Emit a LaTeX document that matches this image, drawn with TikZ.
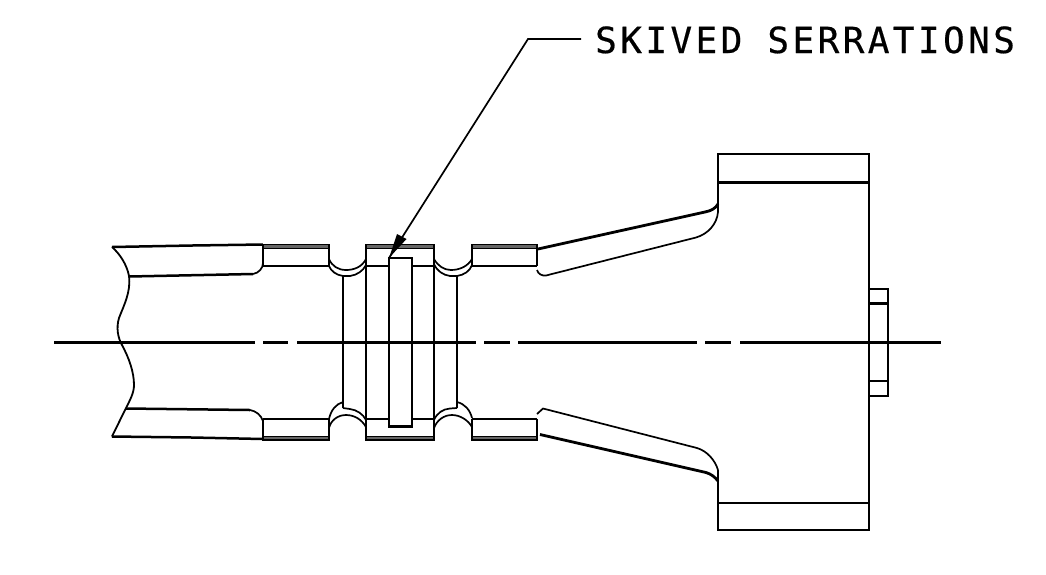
\documentclass[tikz,border=0pt]{standalone}
\usepackage{fontspec}
\setmainfont{DejaVu Sans Mono}
\tikzset{
  part/.style={line width=2.5pt,line join=miter,black},
  thin part/.style={line width=1.7pt,black},
  center line/.style={line width=2.3pt,black},
  leader/.style={line width=1.7pt,black},
}
\begin{document}
\begin{tikzpicture}[x=1pt,y=-1pt]
\useasboundingbox[fill=white] (0,0) rectangle (1046,574);
% centre line
\draw[center line] (54,342.5) -- (255,342.5) (263,342.5) -- (288,342.5) (297,342.5) -- (476,342.5)
  (484,342.5) -- (510,342.5) (518,342.5) -- (697,342.5) (705,342.5) -- (731,342.5) (740,342.5) -- (941,342.5);
% flange
\draw[part] (718,212) -- (718,154) -- (869,154) -- (869,530) -- (718,530) -- (718,470);
\draw[part] (718,182.5) -- (869,182.5) (718,503) -- (869,503);
\draw[part] (869,289) rectangle (888,396);
\draw[part] (869,303.5) -- (888,303.5) (869,381) -- (888,381);
% upper taper
\draw[line width=2.8pt] (538,249) -- (705,212) .. controls (711,211) and (716,208) .. (718,204);
\draw[thin part] (537,270) .. controls (538,274) and (542,276) .. (546,275.5) -- (696,237.5)
  .. controls (708,234) and (717,224) .. (718,212);
% lower taper
\draw[thin part] (537,414) -- (543,408.5) -- (697,448) .. controls (707,451) and (715,460) .. (718,470);
\draw[line width=2.8pt] (540,434.5) -- (706,472.5) .. controls (711,474) and (715,477) .. (718,481);
% pipe
\draw[part] (112,247) -- (192,245.5) -- (263,244.5);
\draw[part] (129,276.5) -- (253,274);
\draw[thin part] (253,274) .. controls (259,273) and (263,268) .. (263,263);
\draw[part] (126,408.5) -- (250,410);
\draw[thin part] (250,410) .. controls (256,411) and (261,415) .. (263,421);
\draw[part] (112,436.5) -- (192,437.5) -- (263,439);
\draw[line width=1.8pt] (112,247) .. controls (120,254) and (127,265) .. (129,276)
  .. controls (131,292) and (124,305) .. (119,318)
  .. controls (116,328) and (118,338) .. (122,345)
  .. controls (129,358) and (134,372) .. (134,385)
  .. controls (134,393) and (130,400) .. (126,408) -- (112,436.5);
% collars
\foreach \xa/\xb in {263/329,366/434,472/537}{
  \fill[black!60] (\xa,244.5) rectangle (\xb,248.5);
  \draw[line width=1.9pt] (\xa,244.5) rectangle (\xb,248.5);
  \draw[part] (\xa,248.5) -- (\xa,266) (\xb,248.5) -- (\xb,266);
  \fill[black!60] (\xa,436.5) rectangle (\xb,440);
  \draw[line width=1.9pt] (\xa,436.5) rectangle (\xb,440);
  \draw[part] (\xa,419) -- (\xa,436.5) (\xb,419) -- (\xb,436.5);
}
\draw[part] (263,266) -- (329,266) (472,266) -- (537,266);
\draw[part] (263,419) -- (329,419) (472,419) -- (537,419);
\draw[part] (366,266) -- (389,266) (412,266) -- (434,266);
\draw[part] (366,419) -- (389,419) (412,419) -- (434,419);
% ring verticals
\draw[part] (343,276) -- (343,408) (366,266) -- (366,419) (434,266) -- (434,419) (457,276) -- (457,408);
\draw[part] (389,258) rectangle (412,426.5);
% grooves, top
\draw[thin part] (329,259) .. controls (332,266) and (338,270) .. (346,270) .. controls (354,270) and (362,267) .. (366,259);
\draw[thin part] (329,266) .. controls (331,271) and (336,275) .. (343,276) -- (350,276) .. controls (357,275) and (363,271) .. (366,265);
\draw[thin part] (434,259) .. controls (438,266) and (444,270) .. (451,270) .. controls (460,270) and (468,266) .. (472,259);
\draw[thin part] (434,264) .. controls (437,271) and (443,275) .. (450,276) -- (457,276) .. controls (464,275) and (470,271) .. (472,265);
% grooves, bottom
\draw[thin part] (329,428) .. controls (331,420) and (338,415) .. (346,415) .. controls (355,415) and (362,420) .. (366,427);
\draw[thin part] (329,419) .. controls (331,410) and (336,404) .. (343,402);
\draw[thin part] (343,408) -- (350,409) .. controls (357,410) and (363,414) .. (366,420);
\draw[thin part] (434,428) .. controls (437,420) and (444,415) .. (452,415) .. controls (460,415) and (468,420) .. (472,427);
\draw[thin part] (434,420) .. controls (437,413) and (443,409) .. (450,408.5) -- (457,408);
\draw[thin part] (457,402) .. controls (465,404) and (470,410) .. (472,418);
% label and leader
\node[anchor=base west,inner sep=0pt,black] (label) at (595,53)
  {\fontsize{36}{36}\selectfont\addfontfeatures{LetterSpace=9.5,FakeBold=0.5}SKIVED SERRATIONS};
\coordinate (elbow) at (528,39);
\coordinate (tail) at (581,39);
\coordinate (tip) at (389,258);
\draw[leader] (tail) -- (elbow) -- (tip);
\fill[black] (tip) -- (397,234) -- (406.5,239) -- cycle;
\end{tikzpicture}
\end{document}
